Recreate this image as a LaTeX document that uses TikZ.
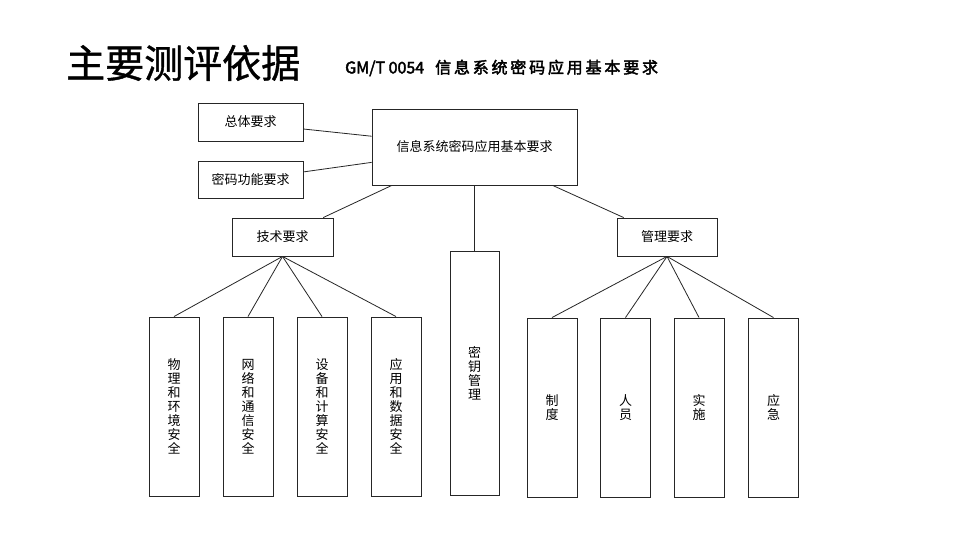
\documentclass[tikz,border=0pt]{standalone}
\usepackage{fontspec}
\setmainfont{Noto Sans CJK SC}
\newfontfamily\cjkb[FakeBold=2.5]{Noto Sans CJK SC}
\newfontfamily\cjkt[FakeBold=1]{Noto Sans CJK SC}
\usetikzlibrary{calc}
\begin{document}
\begin{tikzpicture}[x=1pt,y=-1pt,
  box/.style={draw=black!85, line width=0.9pt, inner sep=0pt, font=\fontsize{13}{14}\selectfont, align=center},
  link/.style={draw=black!85, line width=0.8pt}]
\useasboundingbox (0,0) rectangle (960,540);
\fill[white] (0,0) rectangle (960,540);
% titles
\node[anchor=west, inner sep=0pt, font=\cjkt\fontsize{39}{40}\selectfont] (title) at (66,63) {主要测评依据};
\node[anchor=west, inner sep=0pt, font=\cjkb\fontsize{16}{18}\selectfont] (sub) at (345,68) {GM/T 0054\hspace{11pt}信\kern2.8pt 息\kern2.8pt 系\kern2.8pt 统\kern2.8pt 密\kern2.8pt 码\kern2.8pt 应\kern2.8pt 用\kern2.8pt 基\kern2.8pt 本\kern2.8pt 要\kern2.8pt 求};
% top level
\node[box, minimum width=105pt, minimum height=38pt] (req1) at (250.5,122) {总体要求};
\node[box, minimum width=105pt, minimum height=37pt] (req2) at (250.5,179.5) {密码功能要求};
\node[box, minimum width=205pt, minimum height=76pt] (main) at (474.5,147) {信息系统密码应用基本要求};
\node[box, minimum width=101pt, minimum height=38pt] (tech) at (282.5,237) {技术要求};
\node[box, minimum width=49pt, minimum height=244pt] (key) at (474.5,373) {密\\钥\\管\\理};
\node[box, minimum width=100pt, minimum height=38pt] (mgmt) at (667,237) {管理要求};
% technical leaves
\node[box, minimum width=50pt, minimum height=179pt] (t1) at (174,406.5) {物\\理\\和\\环\\境\\安\\全};
\node[box, minimum width=50pt, minimum height=179pt] (t2) at (248,406.5) {网\\络\\和\\通\\信\\安\\全};
\node[box, minimum width=50pt, minimum height=179pt] (t3) at (322,406.5) {设\\备\\和\\计\\算\\安\\全};
\node[box, minimum width=50pt, minimum height=179pt] (t4) at (396,406.5) {应\\用\\和\\数\\据\\安\\全};
% management leaves
\node[box, minimum width=50pt, minimum height=179pt] (m1) at (552,407.5) {制\\度};
\node[box, minimum width=50pt, minimum height=179pt] (m2) at (625.5,407.5) {人\\员};
\node[box, minimum width=50pt, minimum height=179pt] (m3) at (699,407.5) {实\\施};
\node[box, minimum width=50pt, minimum height=179pt] (m4) at (773.5,407.5) {应\\急};
% connectors
\draw[link] ($(req1.north east)!0.68!(req1.south east)$) -- ($(main.north west)!0.36!(main.south west)$);
\draw[link] ($(req2.north east)!0.3!(req2.south east)$) -- ($(main.north west)!0.7!(main.south west)$);
\draw[link] ($(main.south west)!0.098!(main.south east)$) -- ($(tech.north west)!0.9!(tech.north east)$);
\draw[link] (main.south -| key.north) -- (key.north);
\draw[link] ($(main.south west)!0.88!(main.south east)$) -- ($(mgmt.north west)!0.07!(mgmt.north east)$);
\foreach \n in {t1,t2,t3,t4} \draw[link] (tech.south) -- (\n.north);
\foreach \n in {m1,m2,m3,m4} \draw[link] (mgmt.south) -- (\n.north);
\end{tikzpicture}
\end{document}
